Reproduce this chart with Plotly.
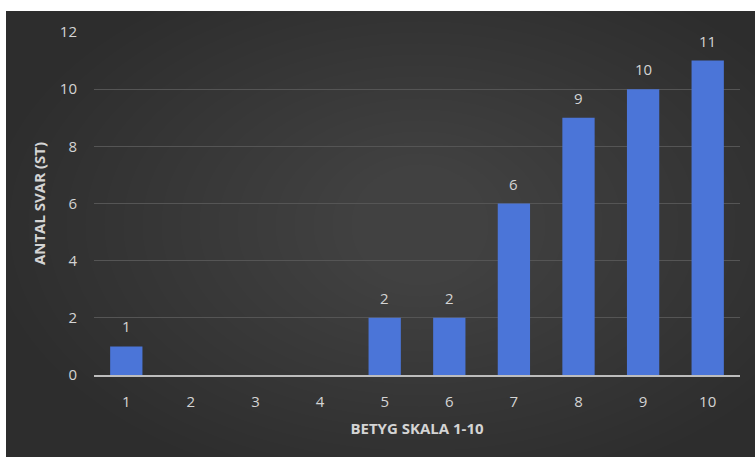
import plotly.graph_objects as go

categories = ["1", "2", "3", "4", "5", "6", "7", "8", "9", "10"]
values = [1, 0, 0, 0, 2, 2, 6, 9, 10, 11]
y_ticks = [0, 2, 4, 6, 8, 10, 12]
x_title = "BETYG SKALA 1-10"
y_title = "ANTAL SVAR (ST)"

FONT = "Open Sans"
TXT = "#d4d4d4"

fig = go.Figure()
fig.add_trace(go.Bar(
    x=categories, y=values,
    marker=dict(color="#4b75d8", line=dict(width=0)),
    width=0.5,
))

# data labels; category axis positions are the category indices
annotations = [
    dict(x=i, y=v, xref="x", yref="y", text=str(v), showarrow=False,
         yanchor="middle", yshift=20, font=dict(color=TXT, size=15, family=FONT))
    for i, v in enumerate(values) if v
]

# background: dark panel with radial lightening
L, R, T, B = 94, 15, 32, 82
W, H = 755, 457
pw, ph = W - L - R, H - T - B
def px(x):
    return (x - L) / pw
def py(y):
    return (H - B - y) / ph

shapes = [dict(type="rect", xref="paper", yref="paper", layer="below",
               x0=px(6), x1=px(755), y0=py(457), y1=py(11),
               fillcolor="#2d2d2d", line=dict(width=0))]
cx, cy = 420, 225
n = 20
for i in range(n):
    rx = 430 - i * 19
    ry = 270 - i * 11
    shapes.append(dict(type="circle", xref="paper", yref="paper", layer="below",
                       x0=px(cx - rx), x1=px(cx + rx), y0=py(cy + ry), y1=py(cy - ry),
                       fillcolor="rgba(255,255,255,0.009)", line=dict(width=0)))

fig.update_layout(
    width=W, height=H,
    margin=dict(l=L, r=R, t=T, b=B),
    paper_bgcolor="white", plot_bgcolor="rgba(0,0,0,0)",
    shapes=shapes, annotations=annotations,
    showlegend=False,
    font=dict(family=FONT, color=TXT, size=14),
    xaxis=dict(
        type="category", range=[-0.5, len(categories) - 0.5],
        showgrid=False, showline=True, linecolor="#bdbdbd", linewidth=2,
        ticks="", ticklabelstandoff=12, tickfont=dict(size=15, color=TXT, family=FONT),
        title=dict(text=f"<b>{x_title}</b>", font=dict(size=15, color=TXT, family=FONT), standoff=13),
        zeroline=False,
    ),
    yaxis=dict(
        range=[0, 12], tickvals=y_ticks, showgrid=True, gridcolor="#555555", gridwidth=1,
        zeroline=False, showline=False, ticks="", ticklabelstandoff=16,
        tickfont=dict(size=15, color=TXT, family=FONT),
        title=dict(text=f"<b>{y_title}</b>", font=dict(size=15, color=TXT, family=FONT), standoff=10),
    ),
)

fig.write_html("out.html")
